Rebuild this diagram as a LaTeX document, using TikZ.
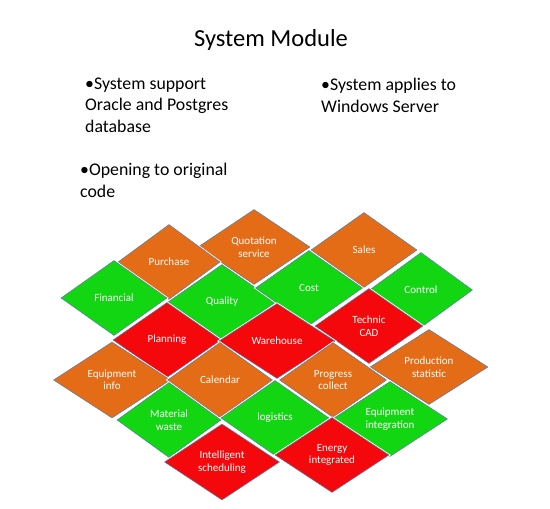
\documentclass[tikz,border=0pt]{standalone}
\usepackage{fontspec}
\setmainfont{Carlito}
\usetikzlibrary{shapes.geometric}
\definecolor{tileorange}{RGB}{228,108,22}
\definecolor{tilegreen}{RGB}{18,214,18}
\definecolor{tilered}{RGB}{245,8,12}
\definecolor{tileedge}{RGB}{90,125,165}
\begin{document}
\begin{tikzpicture}[x=1pt, y=-1pt,
		tile/.style={diamond, draw=tileedge, line width=0.5pt, inner sep=0pt,
			minimum width=106pt, minimum height=75pt, text=white, align=center,
			font=\fontsize{11}{12.5}\selectfont,
			preaction={draw=white, line width=2.2pt}},
		orangetile/.style={tile, fill=tileorange},
		greentile/.style={tile, fill=tilegreen},
		redtile/.style={tile, fill=tilered},
		bullettext/.style={anchor=base west, align=left, inner sep=0pt,
			font=\fontsize{17.8}{21.5}\selectfont}]
		\useasboundingbox (0,0) rectangle (550,509);
		\node[anchor=base, inner sep=0pt, font=\fontsize{24.5}{28}\selectfont] (title) at (271,46) {System Module};
		% notes, anchored at the base of their last line
		\node[bullettext] (dbnote) at (85,132) {•System support\\Oracle and Postgres\\database};
		\node[bullettext] (codenote) at (80,197) {•Opening to original\\code};
		\node[bullettext] (osnote) at (321,112) {•System applies to\\Windows Server};
		% top rows
		\node[orangetile, minimum width=112pt] (quotation) at (254,247) {Quotation\\service};
		\node[orangetile] (sales) at (364,250) {Sales};
		\node[orangetile, minimum width=102pt] (purchase) at (169,262) {Purchase};
		\node[greentile] (financial) at (114,298) {Financial};
		\node[greentile, minimum width=108pt] (quality) at (222,302) {Quality};
		\node[greentile, minimum width=107pt] (cost) at (309,288) {Cost};
		\node[greentile, minimum width=103pt] (control) at (421,290) {Control};
		\node[redtile, minimum width=108pt] (technic) at (369,326) {Technic\\CAD};
		\node[redtile, minimum width=108pt] (planning) at (167,340) {Planning};
		\node[redtile, minimum width=116pt] (warehouse) at (277,341) {Warehouse};
		% middle rows
		\node[orangetile, minimum width=118pt] (production) at (429,367) {Production\\statistic};
		\node[orangetile, minimum width=117pt, minimum height=76pt] (equipinfo) at (112,380) {Equipment\\info};
		\node[orangetile, minimum width=105pt] (calendar) at (220,380) {Calendar};
		\node[orangetile, minimum width=107pt] (progress) at (333,380) {Progress\\collect};
		\node[greentile, minimum width=104pt] (material) at (169,420) {Material\\waste};
		\node[greentile, minimum width=108pt] (logistics) at (275,418) {logistics};
		\node[greentile, minimum width=115pt] (equipint) at (390,419) {Equipment\\integration};
		% bottom row
		\node[redtile, minimum width=115pt, minimum height=76pt] (scheduling) at (222,462) {Intelligent\\scheduling};
		\node[redtile, minimum width=114pt] (energy) at (332,455) {Energy\\integrated};
	\end{tikzpicture}
\end{document}
